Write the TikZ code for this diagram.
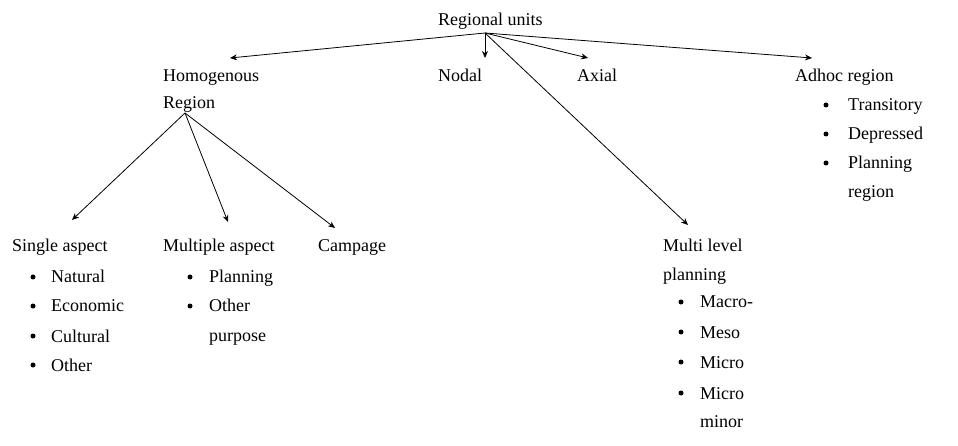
\documentclass[tikz,border=0pt]{standalone}
\usepackage{fontspec}
\setmainfont{Liberation Serif}
\usetikzlibrary{arrows.meta}
\begin{document}
\begin{tikzpicture}[x=1pt,y=-1pt,
  t/.style={anchor=base west,inner sep=0pt,font=\fontsize{18}{22}\selectfont},
  b/.style={circle,fill=black,inner sep=0pt,minimum size=5pt},
  arr/.style={-{Stealth[length=7pt,width=6pt]},line width=0.8pt}]
\useasboundingbox (0,0) rectangle (958,446);
\node[t] (ru) at (438,26) {Regional units};
\coordinate (top) at (485,33);
\node[t] (hom) at (163,82) {Homogenous};
\node[t] (hom2) at (163,109) {Region};
\node[t] (nod) at (438,82) {Nodal};
\node[t] (axi) at (577,82) {Axial};
\node[t] (adh) at (795,82) {Adhoc region};
\foreach \y/\s [count=\i] in {111/Transitory,140/Depressed,169/Planning}{
  \node[b] (adb\i) at (826,\y-6) {};
  \node[t] (adt\i) at (848,\y) {\s};}
\node[t] (adt4) at (848,198) {region};
\node[t] (sin) at (12,252) {Single aspect};
\foreach \y/\s [count=\i] in {283/Natural,312/Economic,342/Cultural,371/Other}{
  \node[b] (sb\i) at (33,\y-6) {};
  \node[t] (st\i) at (51,\y) {\s};}
\node[t] (mul) at (163,252) {Multiple aspect};
\foreach \y/\s [count=\i] in {283/Planning,312/Other}{
  \node[b] (mb\i) at (190,\y-6) {};
  \node[t] (mt\i) at (209,\y) {\s};}
\node[t] (mt3) at (209,341) {purpose};
\node[t] (cam) at (318,252) {Campage};
\node[t] (mlp) at (663,252) {Multi level};
\node[t] (mlp2) at (663,280) {planning};
\foreach \y/\s [count=\i] in {308/Macro-,338/Meso,368/Micro,399/Micro}{
  \node[b] (lb\i) at (681,\y-6) {};
  \node[t] (lt\i) at (700,\y) {\s};}
\node[t] (lt5) at (700,427) {minor};
\coordinate (h) at (185,113);
\draw[arr] (top) -- (230,58);
\draw[arr] (top) -- (485,58);
\draw[arr] (top) -- (588,58);
\draw[arr] (top) -- (812,58);
\draw[arr] (top) -- (688,225);
\draw[arr] (h) -- (72,220);
\draw[arr] (h) -- (228,222);
\draw[arr] (h) -- (335,228);
\end{tikzpicture}
\end{document}
